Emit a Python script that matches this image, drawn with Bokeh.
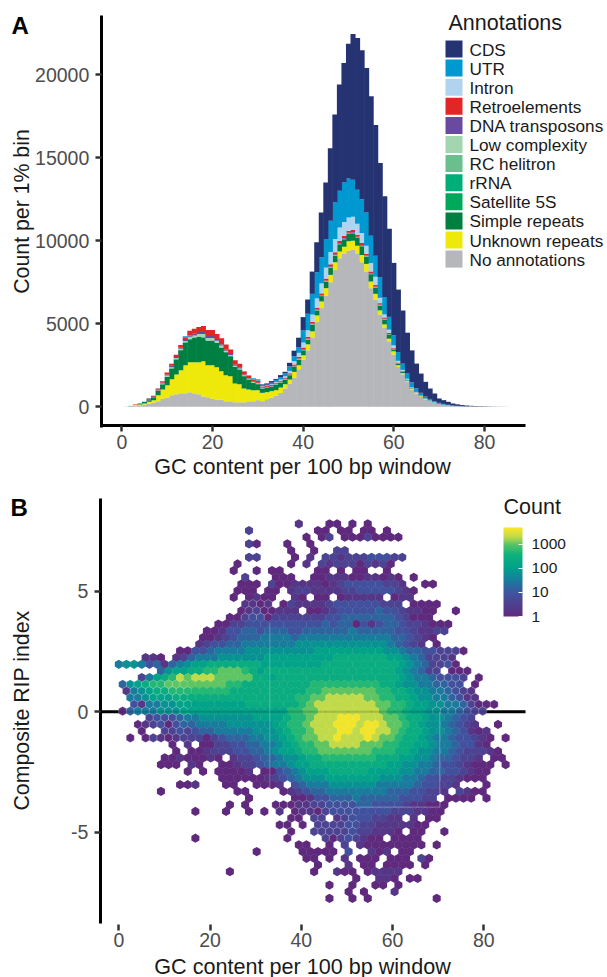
import math
from bokeh.core.properties import value
from bokeh.embed import file_html
from bokeh.resources import INLINE
from bokeh.plotting import figure
from bokeh.layouts import column
from bokeh.models import (ColumnDataSource, Range1d, FixedTicker, Label, LinearAxis,
                          ColorBar, LogColorMapper, NumeralTickFormatter)
from bokeh.transform import log_cmap

FONT = "Liberation Sans"
BINS = list(range(86))

none_ann = [0,20,60,80,100,140,180,240,340,500,
 540,700,760,820,820,880,820,760,620,580,
 480,420,420,340,340,280,280,280,340,340,
 400,340,460,540,680,840,1100,1400,1760,2260,
 2840,3400,4140,5100,5940,6700,7500,8240,8940,9200,
 9400,9440,9200,8700,8140,7140,6460,5540,4740,3940,
 3140,2400,1960,1500,1040,800,600,450,350,250,
 170,120,80,50,40,30,15,10,5,2,1,1]
unknown = [0,0,0,40,40,60,120,160,360,540,
 760,960,1180,1380,1680,1800,1860,1920,2120,1920,
 2020,1960,1720,1560,1500,1120,1080,820,700,660,
 600,500,420,400,320,320,260,240,340,240,
 260,360,400,400,400,440,440,460,400,440,
 560,560,500,440,460,400,340,260,220,160,
 200,100,70,60,50,40,30,20,15,10,
 8,5,5,3,0,0,0,12,12,12]
simple = [0,0,0,0,60,100,100,160,260,320,
 500,640,900,1200,1340,1360,1460,1520,1420,1460,
 1460,1460,1420,1380,1200,1000,880,740,600,440,
 360,260,260,260,340,300,280,260,300,340,
 300,280,400,300,320,380,440,400,440,440,
 440,440,460,520,440,440,360,300,280,240,
 120,100,70,40,20,15,10,5]
sat5s = [0,0,0,0,0,0,0,0,0,0,
 10,10,20,20,30,40,30,20,20,20,
 20,10,10,10,10,10,10,10,10,10,
 10,5,5,5,5,5,5,5,5,5,
 5,5,5,5,5,5,5,5,5,5,
 5,5,5,5,5,5,5,5,5]
rrna = [0,0,0,0,0,0,0,0,0,0,
 5,5,5,5,10,10,5,5,5,5,
 5,5,5,5,5,5,5,5,5,5,
 5,3,3,3,3,3,3,3,3,3,
 3,3,3,3,3,3,3,3,3,3,
 3,3,3,3,3,3,3,3,3,3,3]
rc_helitron = [0,0,0,0,0,0,0,0,0,0,
 10,10,15,15,20,20,20,20,20,20,
 20,20,15,15,10,10,10,10,10,10,
 10,5,5,5,5,5,5,5,5,5,
 5,5,5,5,5,5,5,5,5,5,
 5,5,5,5,5,5,5,5,5,5,5]
low_complexity = [0,0,0,0,0,0,0,0,20,40,
 60,60,60,60,60,100,100,140,180,140,
 140,100,100,60,60,50,40,40,30,30,
 30,15,15,15,15,15,15,15,15,15,
 15,15,15,15,15,15,15,15,15,15,
 15,15,15,15,15,15,15,15,15,15,
 15,10,10,10,5,5,5,5]
dna_transposons = [0,0,0,0,0,0,20,30,40,60,
 60,80,60,60,60,80,100,120,120,120,
 120,100,80,60,60,50,40,40,30,30,
 30,30,30,30,30,30,30,30,40,40,
 40,40,40,40,40,50,50,50,50,50,
 50,50,50,50,40,40,40,30,30,20,
 20,15,10,10,5,5,3,2]
retroelements = [0,0,0,40,0,0,20,40,60,80,
 120,120,140,160,160,280,300,300,360,360,
 360,300,360,320,260,280,240,200,160,140,
 120,60,60,60,60,60,60,60,80,100,
 100,100,100,100,100,120,120,120,120,120,
 120,120,120,120,100,100,100,80,80,60,
 50,40,30,20,15,10,8,5]
intron = [0,0,0,0,0,0,0,0,0,0,
 0,0,0,0,0,0,0,0,0,0,
 0,0,0,0,0,0,0,10,10,10,
 10,20,20,40,40,60,80,140,200,240,
 300,400,440,560,600,660,740,800,820,840,
 800,800,660,600,480,500,500,320,180,200,
 140,100,70,50,30,20,15,10,8,5]
utr = [0,0,0,0,0,0,0,0,0,0,
 0,0,0,0,60,0,0,0,0,0,
 0,0,0,0,0,0,0,0,20,40,
 60,40,50,90,120,150,170,270,300,350,
 730,990,1250,1570,1570,1720,1880,2200,2200,2380,
 2340,2220,2040,2040,2010,1650,1270,1250,1050,770,
 610,530,375,310,300,220,170,120,100,70,
 60,50,35,25,20,15,10,10,5,5]
cds = [0,0,0,0,0,0,60,40,20,0,
 0,0,0,0,0,0,0,0,0,0,
 0,0,0,0,0,0,0,0,0,0,
 20,70,80,100,60,120,100,220,330,560,
 800,860,1340,1800,2700,3400,4360,5300,6400,7200,
 8120,8780,9140,8960,8700,8400,7860,6860,6060,5300,
 4360,3760,3200,2460,1930,1485,1160,885,627,465,
 262,225,180,122,90,60,50,30,25,20,
 20,15,10,8,5,3]

annotation_names = ["No annotations", "Unknown repeats", "Simple repeats", "Satellite 5S", "rRNA", "RC helitron",
                    "Low complexity", "DNA transposons", "Retroelements", "Intron", "UTR", "CDS"]
annotation_series = [none_ann, unknown, simple, sat5s, rrna, rc_helitron,
                     low_complexity, dna_transposons, retroelements, intron, utr, cds]
annotation_colors = ["#b6b7ba", "#eee90a", "#007f43", "#00a85c", "#00ae78", "#6abf8f",
                     "#a2d5b0", "#6a4a9d", "#e12626", "#b0d4f0", "#0098d0", "#253372"]

x_ticks = [0, 20, 40, 60, 80]
count_ticks = [0, 5000, 10000, 15000, 20000]
rip_ticks = [-5, 0, 5]
legend_ticks = [1, 10, 100, 1000]

# Panel B: each row of the hexagon grid is (first column, log2(count) per cell as a hex digit; blank = no cell)
hex_rows = [
 (24, "1   00 0 0"),
 (17, "2        00 00 00 0"),
 (25, "0 02 00020000"),
 (17, "20   0  0"),
 (23, "0  0  22"),
 (17, "22    0 1 22122233322"),
 (16, "0      0 1 2122202120"),
 (15, "0  0 00    00 0 00  0"),
 (17, "2   000  001110011010 0"),
 (16, "000 200111101233333221  00"),
 (16, "000 00 12211112233333210"),
 (15, "0 0100  10 00 011111 011"),
 (17, "1101 0211112333333222 0000"),
 (16, "01200111 00123333343321100  0"),
 (15, "002330222222233444444432000"),
 (13, "0022333333333343440313443221000"),
 (12, "00133443444334444445444443321122"),
 (11, "0012344455554555555555555443210"),
 (11, "123344555555566666666666654321 0"),
 (8,  "0033455556666666667777777776654433" "2220"),
 (4,  "110 12455566666677777777" "78888888776542221"),
 (0,  "566534145677888888877777777" "888888888876542230"),
 (6,  "467788" "99aaa987" "88888888888888888" "765422 000"),
 (3,  "2578" "9babbbaaaaa88" "788888" "88888888888" "76554" "3332 0"),
 (1,  "467899aaaaaaaa99888888888" "99999999988" "76655443" "3 0"),
 (1,  "156788" "99999999" "8888888888" "99aaaaaaa998" "87665" "54321"),
 (2,  "556777" "8888888888888888" "99aabbbbbaa9988" "76655" "4311"),
 (2,  "315566" "777777777" "8888888" "9abbbbbbbbaa9987766" "5" "5" "42000"),
 (1,  "04555666" "77777777777777" "99aabbbbbbbba99877" "66" "55" "4322"),
 (4,  "2333" "455666" "6666" "7777" "899abbbcccb" "bbaa98" "87" "66" "5432"),
 (3,  "0123034" "45555" "666666" "7899abbbcccbccb" "aa98" "76654321  0"),
 (3,  "0  2232344" "55555666" "7899abbbccbccbba988" "7665431" "01"),
 (2,  "0 021012220" "2344455" "66789aabbcbbbcb" "aa98" "8" "7655" "43321" "0 0"),
 (7,  "0 1 00223344" "55678" "99aabbbbaaa9988" "77655" "433" "10"),
 (8,  "0 001222334" "4567789" "9aaaaaaa99988" "766" "55" "432" "2" "2" "1" "0"),
 (6,  "001000" "10 1223" "44566788" "9999999888" "7766" "544" "322" "1 00"),
 (6,  "000 10  001223" "4556778888888888" "7766" "5" "5" "4" "33" "21000 0"),
 (9,  "0 0 00001 00" "34567778888877776655" "4433" "2" "1" "00"),
 (14, "00000012345666" "7777777666554332" "21" "000"),
 (8,  "001   00  0001 " "34555666666" "5555543322" "1   0"),
 (6,  "0         00    0" "1234455555555" "44433" "221 2" "100"),
 (17, "0     00" "1334445444443332" "2 0000 0"),
 (15, "0 0   000" "1122" "3333" "44" "3333" "2" "11" "000"),
 (10, "0   0  0 0 1 0" "110" "233333333" "222" "1100"),
 (23, "00 22 1233322" "11 1 00"),
 (21, "00 0 2222" "3322" "11111" "00"),
 (23, "0  22222" "322" "111" "0 00  0"),
 (10, "0           0    2" "0232" "100 0000"),
 (24, "00  0 2 1" "00000000" " 0"),
 (18, "0     00000 3  101 00"),
 (25, "00 0 1 000 000 20"),
 (26, "0   1 00 0000 0"),
 (15, "0          0  100 01111"),
 (31, "0  110 00"),
 (28, "0  0  00 0"),
 (30, "0 0   1"),
 (28, "0  0 0        0"),
]

# Pale seams of the original image tiles: (first column, last column, first row, last row)
tile_patches = [(0, 9, 24, 33), (42, 52, 19, 28), (21, 31, 42, 47), (17, 20, 12, 14)]

HEX_DX, HEX_X0, HEX_DY, HEX_Y0 = 1.679, -0.84, 0.2772, 7.79

hx, hy, hc, ha = [], [], [], []
for r, (start, cells) in enumerate(hex_rows):
    for j, ch in enumerate(cells):
        if ch == " ":
            continue
        c = start + j
        hx.append(c * HEX_DX + (0 if r % 2 else HEX_X0))
        hy.append(HEX_Y0 - r * HEX_DY)
        hc.append(2 ** int(ch, 16))
        seam = any(a <= c <= b and d <= r <= e for a, b, d, e in tile_patches)
        ha.append(0.4 if seam else 0.0)

# the colour ramp: (position, colour)
ramp = [(0.0, "#5f2a7d"), (0.27, "#3f55a0"), (0.40, "#1a7a9e"), (0.54, "#00a08c"),
        (0.70, "#0fb27a"), (0.81, "#58c465"), (0.89, "#bcd94c"), (1.0, "#fde725")]

def build_palette(n=256):
    out = []
    for i in range(n):
        t = i / (n - 1)
        for (t0, c0), (t1, c1) in zip(ramp, ramp[1:]):
            if t <= t1:
                f = (t - t0) / (t1 - t0)
                a = [int(c0[k:k + 2], 16) for k in (1, 3, 5)]
                b = [int(c1[k:k + 2], 16) for k in (1, 3, 5)]
                out.append("#%02x%02x%02x" % tuple(round(u + (v - u) * f) for u, v in zip(a, b)))
                break
    return out
hex_palette = build_palette()

# window pixels -> data, per panel
ax = lambda px: (px - 121.3) / 4.534
ay = lambda py: (406.3 - py) / 0.016615
bx = lambda px: (px - 118.3) / 4.5625
by = lambda py: (711.3 - py) / 24.13

# ---------- Panel A ----------
pa = figure(width=607, height=480, output_backend="svg", toolbar_location=None,
            x_range=Range1d(ax(0), ax(607)), y_range=Range1d(ay(480), ay(0)),
            x_axis_location=None, y_axis_location=None, min_border=0)

data = {"k": BINS}
for name, vals in zip(annotation_names, annotation_series):
    data[name] = list(vals) + [0] * (86 - len(vals))
src = ColumnDataSource(data)
pa.vbar_stack(annotation_names, x="k", width=1.12, color=annotation_colors, line_color=None, source=src)

# legend drawn by hand: the built-in one cannot pack rows this tightly
legend_names = annotation_names[::-1]
legend_colors = annotation_colors[::-1]
legend_py = [48.5 + 19.1 * i for i in range(len(legend_names))]
pa.rect([ax(453.5)] * len(legend_py), [ay(v) for v in legend_py], width=17, height=17,
        width_units="screen", height_units="screen", fill_color=legend_colors, line_color=None)
pa.text([ax(469)] * len(legend_py), [ay(v + 0.5) for v in legend_py], text=legend_names,
        text_font=value(FONT), text_font_size="17.2px", text_color="#1a1a1a", text_baseline="middle")

# ---------- Panel B ----------
pb_top = 480
pb = figure(width=607, height=497, output_backend="svg", toolbar_location=None,
            x_range=Range1d(bx(0), bx(607)), y_range=Range1d(by(977), by(pb_top)),
            x_axis_location=None, y_axis_location=None, min_border=0)

pb.line([bx(100), bx(525)], [0, 0], line_color="black", line_width=3)

hsrc = ColumnDataSource(dict(x=hx, y=hy, count=hc, la=ha))
pb.scatter("x", "y", source=hsrc, marker="hex", size=9.25, angle=math.pi / 6,
           fill_color=log_cmap("count", hex_palette, 1, 5000), fill_alpha=1.0,
           line_color="#ffffff", line_alpha="la", line_width=0.6)

# the zero line shows faintly through the hexagons; tile seams cross them too
pb.line([bx(100), bx(525)], [0, 0], line_color="black", line_width=2, line_alpha=0.14)
pb.line([33.1, 33.1], [3.7, -3.2], line_color="white", line_alpha=0.35, line_width=0.8)
pb.line([52.5, 70.35, 70.35], [-3.95, -3.95, 0.0], line_color="white", line_alpha=0.4, line_width=0.8)

mapper = LogColorMapper(palette=hex_palette, low=1, high=5000)
cb = ColorBar(color_mapper=mapper, location=(503, 977 - 616), width=19, height=89,
              ticker=FixedTicker(ticks=legend_ticks), formatter=NumeralTickFormatter(format="0"),
              major_label_text_font=FONT, major_label_text_font_size="15.5px", major_label_text_color="#1a1a1a",
              label_standoff=9, major_tick_line_color="#ffffff", major_tick_in=4, minor_tick_line_color=None,
              bar_line_color=None, padding=0, margin=0,
              background_fill_alpha=0, border_line_color=None)
pb.add_layout(cb, "center")

# ---------- Axes ----------
def style(a, line_color="black"):
    a.axis_line_color = line_color
    a.axis_line_width = 3
    a.major_tick_line_color = "#333333"
    a.major_tick_line_width = 2.5
    a.major_tick_in = 0
    a.major_tick_out = 6
    a.minor_tick_line_color = None
    a.major_label_text_font = FONT
    a.major_label_text_font_size = "19.5px"
    a.major_label_text_color = "#4d4d4d"
    return a

pa_x = style(LinearAxis(ticker=FixedTicker(ticks=x_ticks), fixed_location=ay(425.3),
                        bounds=(ax(100), ax(525)), major_label_standoff=3))
pa_y = style(LinearAxis(ticker=FixedTicker(ticks=count_ticks), fixed_location=ax(100.8),
                        bounds=(ay(426.5), ay(15)), major_label_standoff=6,
                        formatter=NumeralTickFormatter(format="0")))
pa.add_layout(pa_x, "below")
pa.add_layout(pa_y, "left")

pb_x = style(LinearAxis(ticker=FixedTicker(ticks=x_ticks), fixed_location=by(923.5),
                        bounds=(bx(100), bx(525)), major_label_standoff=3), line_color=None)
pb_y = style(LinearAxis(ticker=FixedTicker(ticks=rip_ticks), fixed_location=bx(99.8),
                        bounds=(by(923), by(498)), major_label_standoff=6,
                        formatter=NumeralTickFormatter(format="0")))
pb.add_layout(pb_x, "below")
pb.add_layout(pb_y, "left")

for p in (pa, pb):
    p.grid.visible = False
    p.outline_line_color = None
    p.background_fill_color = "white"

def put(p, text, x, y, size, angle=0.0, bold=False, align="left"):
    p.add_layout(Label(x=x, y=y, text=text, angle=angle, text_font=FONT, text_font_size=size,
                       text_font_style="bold" if bold else "normal", text_color="black" if bold else "#1a1a1a",
                       text_align=align, text_baseline="middle"), "center")

put(pa, "A", ax(11), ay(25), "24px", bold=True)
put(pa, "Annotations", ax(448), ay(22.5), "21.5px")
put(pa, "GC content per 100 bp window", ax(302), ay(466), "21.6px", align="center")
put(pa, "Count per 1% bin", ax(21), ay(211), "21.3px", angle=math.pi / 2, align="center")
put(pb, "B", bx(10), by(507), "24px", bold=True)
put(pb, "Count", bx(503), by(506), "21.5px")
put(pb, "GC content per 100 bp window", bx(302), by(965.5), "21.6px", align="center")
put(pb, "Composite RIP index", bx(21), by(710), "21.3px", angle=math.pi / 2, align="center")

layout = column(pa, pb, spacing=0)
open("out.html", "w").write(file_html(layout, INLINE))
